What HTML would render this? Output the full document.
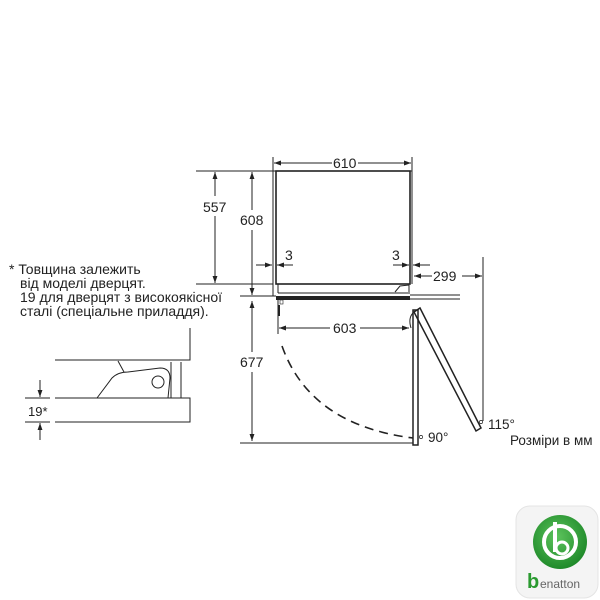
<!DOCTYPE html>
<html><head><meta charset="utf-8"><style>
html,body{margin:0;padding:0;background:#fff;}
svg{display:block;}
text{font-family:"Liberation Sans","DejaVu Sans",sans-serif;fill:#222;}
</style></head><body>
<svg width="600" height="600" viewBox="0 0 600 600" xmlns="http://www.w3.org/2000/svg">
<defs>
<marker id="a" viewBox="0 0 10 10" refX="10" refY="5" markerWidth="7" markerHeight="7" orient="auto-start-reverse" markerUnits="userSpaceOnUse"><path d="M0,1.5 L10,5 L0,8.5 z" fill="#222"/></marker>
<radialGradient id="g" cx="45%" cy="40%" r="60%"><stop offset="0" stop-color="#5cc35c"/><stop offset="1" stop-color="#1f8a2a"/></radialGradient>
</defs>
<g stroke="#222" stroke-width="1" fill="none">
<rect x="276" y="171" width="134" height="113" stroke-width="1.6"/>
<polyline points="273,296 273,171 412,171 412,284"/>
<line x1="196" y1="171" x2="273" y2="171"/>
<line x1="196" y1="284" x2="273" y2="284"/>
<line x1="273" y1="157" x2="273" y2="171"/><line x1="412" y1="157" x2="412" y2="171"/>
<line x1="274" y1="163" x2="332" y2="163" marker-start="url(#a)"/>
<line x1="358" y1="163" x2="411" y2="163" marker-end="url(#a)"/>
<line x1="215" y1="172" x2="215" y2="283" marker-start="url(#a)" marker-end="url(#a)"/>
<line x1="252" y1="172" x2="252" y2="295" marker-start="url(#a)" marker-end="url(#a)"/>
<line x1="240" y1="296" x2="276" y2="296"/>
<line x1="256" y1="265" x2="272" y2="265" marker-end="url(#a)"/>
<line x1="293" y1="265" x2="277" y2="265" marker-end="url(#a)"/>
<line x1="393" y1="265" x2="409" y2="265" marker-end="url(#a)"/>
<line x1="430" y1="265" x2="413" y2="265" marker-end="url(#a)"/>
<line x1="414" y1="276" x2="432" y2="276" marker-start="url(#a)"/>
<line x1="462" y1="276" x2="482" y2="276" marker-end="url(#a)"/>
<line x1="483" y1="257" x2="483" y2="421"/>
<line x1="278" y1="284" x2="278" y2="293"/>
<line x1="278" y1="293" x2="410" y2="293"/>
<rect x="276" y="296" width="134" height="4" fill="#222" stroke="none"/>
<line x1="410" y1="295" x2="460" y2="295"/>
<line x1="410" y1="299" x2="460" y2="299"/>
<path d="M395,292 L400,286 L409,285 L409,292" />
<line x1="278" y1="300" x2="278" y2="334"/>
<line x1="279" y1="328" x2="330" y2="328" marker-start="url(#a)"/>
<line x1="360" y1="328" x2="409" y2="328" marker-end="url(#a)"/>
<line x1="279" y1="305" x2="279" y2="316" stroke-width="2"/>
<rect x="280" y="300" width="3" height="4" stroke-width="0.6"/>
<line x1="252" y1="301" x2="252" y2="441" marker-start="url(#a)" marker-end="url(#a)"/>
<line x1="240" y1="443" x2="413" y2="443"/>
<path d="M282,346 Q310,425 413,438" stroke-dasharray="9,6" stroke-width="1.6"/>
<rect x="413" y="310" width="5" height="135" stroke-width="1.5"/>
<polygon points="414,312 420,308 481,428 476,431" stroke-width="1.5"/>
<path d="M413,313 Q408,318 411,328" />
<circle cx="421" cy="437" r="1.6" stroke-width="0.7"/>
<circle cx="481" cy="422" r="1.6" stroke-width="0.7"/>
<polyline points="55,360 190,360 190,328"/>
<polyline points="55,398 190,398 190,422 55,422"/>
<line x1="171" y1="362" x2="171" y2="398"/><line x1="181" y1="362" x2="181" y2="398"/>
<path d="M97,398 L112,378 Q118,372 128,372 L160,368 Q170,368 170,378 L168,398"/>
<line x1="118" y1="361" x2="124" y2="372"/>
<circle cx="158" cy="382" r="6"/>
<line x1="25" y1="398" x2="50" y2="398"/>
<line x1="25" y1="422" x2="50" y2="422"/>
<line x1="40" y1="380" x2="40" y2="397" marker-end="url(#a)"/>
<line x1="40" y1="440" x2="40" y2="423" marker-end="url(#a)"/>
</g>
<g fill="#fff" stroke="none">
<rect x="203" y="196" width="26" height="20"/>
<rect x="240" y="210" width="25" height="20"/>
<rect x="240" y="352" width="25" height="20"/>
</g>
<g font-size="14">
<text x="333" y="168">610</text>
<text x="203" y="212">557</text>
<text x="240" y="225">608</text>
<text x="285" y="260">3</text>
<text x="392" y="260">3</text>
<text x="433" y="281">299</text>
<text x="333" y="333">603</text>
<text x="240" y="367">677</text>
<text x="428" y="442" font-size="13.5">90°</text>
<text x="488" y="429" font-size="13.5">115°</text>
<text x="510" y="445" font-size="13.5">Розміри в мм</text>
<text x="9" y="274">* Товщина залежить</text>
<text x="20" y="288">від моделі дверцят.</text>
<text x="20" y="302">19 для дверцят з високоякісної</text>
<text x="20" y="316">сталі (спеціальне приладдя).</text>
<text x="28" y="416" font-size="13">19*</text>
</g>
<rect x="516" y="506" width="82" height="92" rx="14" fill="#f4f4f4" stroke="#e4e4e4"/>
<circle cx="560" cy="542" r="27" fill="url(#g)"/>
<circle cx="560" cy="542" r="16" fill="none" stroke="#fff" stroke-width="4"/>
<line x1="555" y1="522" x2="555" y2="552" stroke="#fff" stroke-width="4"/>
<circle cx="562" cy="548" r="6" fill="none" stroke="#fff" stroke-width="3"/>
<text x="527" y="588" font-size="20" font-weight="bold" style="fill:#2a9a30">b</text>
<text x="540" y="588" font-size="12" style="fill:#666">enatton</text>
</svg>
</body></html>
